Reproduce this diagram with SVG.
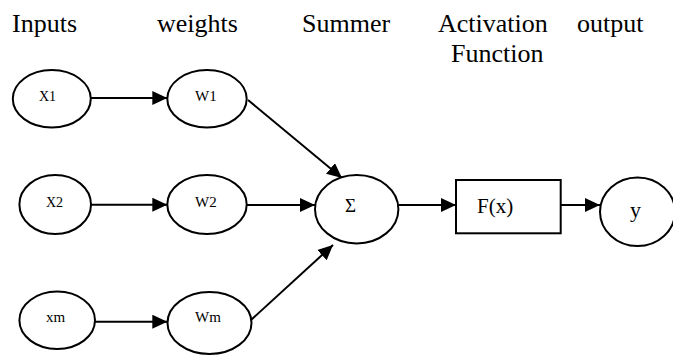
<svg xmlns="http://www.w3.org/2000/svg" width="673" height="355" viewBox="0 0 673 355">
<defs>
<marker id="arr" markerUnits="userSpaceOnUse" markerWidth="16" markerHeight="14" refX="15" refY="7" orient="auto">
<path d="M0,0 L15,7 L0,14 z" fill="#000"/>
</marker>
</defs>
<g id="headers">
<text font-family="Liberation Serif" font-size="26" x="12" y="32">Inputs</text>
<text font-family="Liberation Serif" font-size="26" x="157" y="32">weights</text>
<text font-family="Liberation Serif" font-size="26" x="302" y="32">Summer</text>
<text font-family="Liberation Serif" font-size="26" x="438" y="32">Activation</text>
<text font-family="Liberation Serif" font-size="26" x="451" y="62">Function</text>
<text font-family="Liberation Serif" font-size="26" x="577" y="32">output</text>
</g>
<g id="connectors" stroke="#000" stroke-width="2" fill="none">
<line x1="91" y1="98" x2="167.3" y2="98" marker-end="url(#arr)"/>
<line x1="91" y1="204.7" x2="167.3" y2="204.7" marker-end="url(#arr)"/>
<line x1="95" y1="321.7" x2="167.3" y2="321.7" marker-end="url(#arr)"/>
<line x1="248" y1="100" x2="342" y2="178" marker-end="url(#arr)"/>
<line x1="246.7" y1="205" x2="315" y2="205" marker-end="url(#arr)"/>
<line x1="251" y1="320" x2="333" y2="245" marker-end="url(#arr)"/>
<line x1="398.3" y1="205" x2="456" y2="205" marker-end="url(#arr)"/>
<line x1="560.7" y1="205" x2="600" y2="205" marker-end="url(#arr)"/>
</g>
<g id="x1"><ellipse cx="51.8" cy="98.8" rx="39" ry="28.8" fill="#fff" stroke="#000" stroke-width="2"/><text font-family="Liberation Serif" font-size="14" x="39" y="101">X1</text></g>
<g id="w1"><ellipse cx="207" cy="98.8" rx="39.7" ry="28.8" fill="#fff" stroke="#000" stroke-width="2"/><text font-family="Liberation Serif" font-size="15" x="195" y="101">W1</text></g>
<g id="x2"><ellipse cx="55.2" cy="204.5" rx="35.8" ry="29.5" fill="#fff" stroke="#000" stroke-width="2"/><text font-family="Liberation Serif" font-size="14" x="46" y="207">X2</text></g>
<g id="w2"><ellipse cx="207" cy="204.5" rx="39.7" ry="29.5" fill="#fff" stroke="#000" stroke-width="2"/><text font-family="Liberation Serif" font-size="15" x="195" y="207">W2</text></g>
<g id="xm"><ellipse cx="57.2" cy="320.3" rx="37.8" ry="28.7" fill="#fff" stroke="#000" stroke-width="2"/><text font-family="Liberation Serif" font-size="15" x="46" y="322">xm</text></g>
<g id="wm"><ellipse cx="209.5" cy="323" rx="42" ry="31" fill="#fff" stroke="#000" stroke-width="2"/><text font-family="Liberation Serif" font-size="15" x="195" y="322">Wm</text></g>
<g id="sum"><ellipse cx="356.7" cy="209.2" rx="41.7" ry="34.2" fill="#fff" stroke="#000" stroke-width="2"/><text font-family="Liberation Serif" font-size="19" x="345" y="212">Σ</text></g>
<g id="act"><rect x="456" y="180" width="104.7" height="53.3" fill="#fff" stroke="#000" stroke-width="2"/><text font-family="Liberation Serif" font-size="21" x="477" y="213">F(x)</text></g>
<g id="out"><ellipse cx="637.5" cy="211.7" rx="37.5" ry="34.3" fill="#fff" stroke="#000" stroke-width="2"/><text font-family="Liberation Serif" font-size="22" x="630" y="217">y</text></g>
</svg>
